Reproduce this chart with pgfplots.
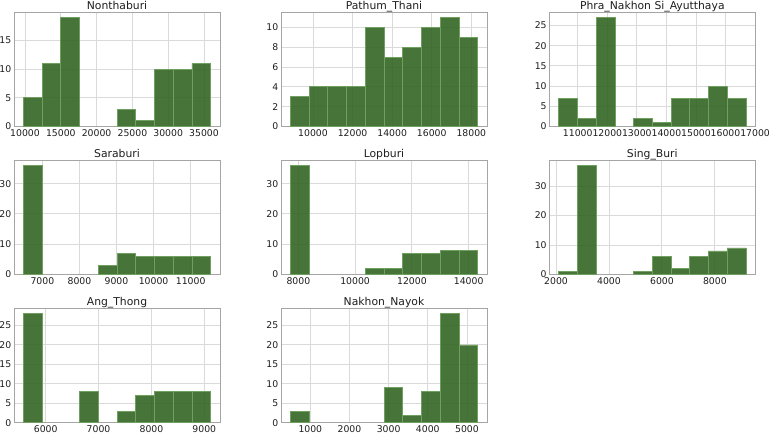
\documentclass[border=0pt]{standalone}
\usepackage{pgfplots}
\pgfplotsset{compat=1.18}
\usepackage{fontspec}
\setmainfont{DejaVu Sans}

\definecolor{barfill}{RGB}{51,101,36}
\definecolor{baredge}{RGB}{112,160,96}
\definecolor{gridgray}{RGB}{218,218,218}
\definecolor{spinegray}{RGB}{165,165,165}
\definecolor{labelgray}{RGB}{30,30,30}

\pgfplotsset{
  histpanel/.style={
    scale only axis, width=206pt, height=114.5pt, anchor=north west,
    ymin=0,
    axis line style={spinegray, line width=0.9pt},
    grid=major, major grid style={gridgray, line width=0.9pt},
    major tick length=0pt, tick style={draw=none},
    ticklabel style={font=\fontsize{9.3}{9.3}\selectfont, text=labelgray},
    xticklabel style={inner sep=0pt, anchor=north, yshift=-3pt},
    yticklabel style={inner sep=0pt, anchor=east, xshift=-2.5pt},
    /pgf/number format/assume math mode=true,
    /pgf/number format/1000 sep={},
    scaled ticks=false,
    title style={font=\fontsize{10.8}{10.8}\selectfont, text=labelgray,
      at={(0.5,1)}, anchor=base, inner sep=0pt, yshift=-3.5pt},
  },
  histbar/.style={ybar interval, fill=barfill, fill opacity=0.9,
    draw=baredge, line width=0.7pt},
}

\begin{document}
\begin{tikzpicture}
\useasboundingbox (0,0) rectangle (769pt,433pt);

% ---- row 1 ----
\begin{axis}[histpanel, at={(14pt,421pt)}, title={Nonthaburi},
  xmin=8459, xmax=37237, ymax=19.95,
  xtick={10000,15000,20000,25000,30000,35000}, ytick={0,5,10,15}]
\addplot[histbar] coordinates {
  (9767,5) (12383,11) (14999,19) (17616,0)};
\addplot[histbar] coordinates {
  (22848,3) (25464,1) (28080,10) (30697,10) (33313,11) (35929,0)};
\end{axis}

\begin{axis}[histpanel, at={(281pt,421pt)}, title={Pathum\_Thani},
  xmin=8382, xmax=18793, ymax=11.55,
  xtick={10000,12000,14000,16000,18000}, ytick={0,2,4,6,8,10}]
\addplot[histbar] coordinates {
  (8855,3) (9802,4) (10748,4) (11695,4) (12641,10) (13588,7)
  (14534,8) (15481,10) (16427,11) (17374,9) (18320,0)};
\end{axis}

\begin{axis}[histpanel, at={(549.3pt,421pt)}, title={Phra\_Nakhon Si\_Ayutthaya},
  xmin=10038, xmax=17007, ymax=28.35,
  xtick={11000,12000,13000,14000,15000,16000,17000}, ytick={0,5,10,15,20,25}]
\addplot[histbar] coordinates {
  (10355,7) (10989,2) (11622,27) (12256,0)};
\addplot[histbar] coordinates {
  (12889,2) (13523,1) (14156,7) (14790,7) (15423,10) (16057,7) (16690,0)};
\end{axis}

% ---- row 2 ----
\begin{axis}[histpanel, at={(14pt,273pt)}, title={Saraburi},
  xmin=6235, xmax=11792, ymax=37.8,
  xtick={7000,8000,9000,10000,11000}, ytick={0,10,20,30}]
\addplot[histbar] coordinates {(6488,36) (6993,0)};
\addplot[histbar] coordinates {
  (8508,3) (9014,7) (9519,6) (10024,6) (10529,6) (11034,6) (11539,0)};
\end{axis}

\begin{axis}[histpanel, at={(281pt,273pt)}, title={Lopburi},
  xmin=7389, xmax=14646, ymax=37.8,
  xtick={8000,10000,12000,14000}, ytick={0,10,20,30}]
\addplot[histbar] coordinates {(7719,36) (8379,0)};
\addplot[histbar] coordinates {
  (10358,2) (11018,2) (11677,7) (12337,7) (12997,8) (13656,8) (14316,0)};
\end{axis}

\begin{axis}[histpanel, at={(549.3pt,273pt)}, title={Sing\_Buri},
  xmin=1746, xmax=9527, ymax=38.85,
  xtick={2000,4000,6000,8000}, ytick={0,10,20,30}]
\addplot[histbar] coordinates {(2100,1) (2807,37) (3515,0)};
\addplot[histbar] coordinates {
  (4929,1) (5637,6) (6344,2) (7051,6) (7758,8) (8466,9) (9173,0)};
\end{axis}

% ---- row 3 ----
\begin{axis}[histpanel, at={(14pt,124.7pt)}, title={Ang\_Thong},
  xmin=5401, xmax=9297, ymax=29.4,
  xtick={6000,7000,8000,9000}, ytick={0,5,10,15,20,25}]
\addplot[histbar] coordinates {(5578,28) (5932,0)};
\addplot[histbar] coordinates {(6641,8) (6995,0)};
\addplot[histbar] coordinates {
  (7349,3) (7703,7) (8057,8) (8412,8) (8766,8) (9120,0)};
\end{axis}

\begin{axis}[histpanel, at={(281pt,124.7pt)}, title={Nakhon\_Nayok},
  xmin=251, xmax=5511, ymax=29.4,
  xtick={1000,2000,3000,4000,5000}, ytick={0,5,10,15,20,25}]
\addplot[histbar] coordinates {(490,3) (968,0)};
\addplot[histbar] coordinates {
  (2881,9) (3359,2) (3837,8) (4316,28) (4794,20) (5272,0)};
\end{axis}
\end{tikzpicture}
\end{document}
